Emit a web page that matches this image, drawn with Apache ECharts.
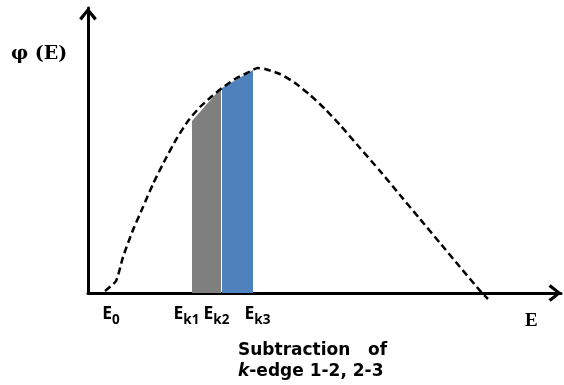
<!DOCTYPE html>
<html>
<head>
<meta charset="utf-8">
<script src="https://cdn.jsdelivr.net/npm/echarts@6/dist/echarts.min.js"></script>
<style>html,body{margin:0;padding:0;background:#fff}#c{width:564px;height:385px}</style>
</head>
<body>
<div id="c"></div>
<script>
// Energy (x) and flux phi(E) (y), arbitrary units
const curveE   = [17, 28, 35, 45, 55, 65, 77, 89, 100, 112, 123, 134, 147, 159, 170, 177, 192, 207, 222, 237, 252, 272, 292, 312, 332, 352, 372, 394, 400];
const curvePhi = [2, 12, 36, 63, 86, 109, 133, 155, 172, 186, 196, 205, 214, 220, 225, 224, 219, 210, 198, 184, 168, 145, 122, 98, 74, 50, 26, 0, -6];
const greyE   = [104, 133];
const greyPhi = [172, 205];
const blueE   = [134, 165];
const bluePhi = [205, 223];
const tickPos    = [23, 98.5, 128.5, 169.5];
const tickMain   = ['E', 'E', 'E', 'E'];
const tickSub    = ['0', 'k1', 'k2', 'k3'];
const xMax = 473, yMax = 285;

const pair = (xs, ys) => xs.map((x, i) => [x, ys[i]]);
const chevron = 'path://M9,0 L18,11 L15.4,13.2 L9,4.8 L2.6,13.2 L0,11 Z';

const axisLineStyle = { lineStyle: { color: '#000', width: 3 }, symbol: ['none', chevron], symbolSize: [18, 13], symbolOffset: [0, -6] };
const sans = 'Open Sans';
const capSans = 'DejaVu Sans';

const chart = echarts.init(document.getElementById('c'));
chart.setOption({
  animation: false,
  grid: { left: 88, top: 8, width: 473, height: 285 },
  xAxis: {
    type: 'value', min: 0, max: xMax,
    splitLine: { show: false },
    axisTick: { show: false },
    axisLine: axisLineStyle,
    axisLabel: {
      customValues: tickPos,
      margin: 12,
      formatter: v => { const i = tickPos.indexOf(v); return i < 0 ? '' : '{m|' + tickMain[i] + '}{s|' + tickSub[i] + '}'; },
      rich: {
        m: { fontFamily: sans, fontWeight: 'bold', fontSize: 17.5, color: '#000', verticalAlign: 'bottom' },
        s: { fontFamily: sans, fontWeight: 'bold', fontSize: 13.5, color: '#000', verticalAlign: 'bottom', padding: [0, 0, -4, 0] }
      }
    }
  },
  yAxis: {
    type: 'value', min: 0, max: yMax,
    splitLine: { show: false },
    axisTick: { show: false },
    axisLabel: { show: false },
    axisLine: axisLineStyle
  },
  title: {
    text: 'Subtraction   of\n{i|k}-edge 1-2, 2-3',
    left: 233, top: 335,
    textStyle: {
      fontFamily: capSans, fontWeight: 'bold', fontSize: 17, color: '#000', lineHeight: 21,
      rich: { i: { fontFamily: capSans, fontWeight: 'bold', fontStyle: 'italic', fontSize: 17, color: '#000', lineHeight: 21 } }
    }
  },
  graphic: [
    { type: 'text', left: 11, top: 45, style: { text: 'φ (E)', font: 'bold 19px "DejaVu Serif"', fill: '#000' } },
    { type: 'text', left: 525, top: 312, style: { text: 'E', font: 'bold 19px "Liberation Serif"', fill: '#000' } }
  ],
  series: [
    {
      type: 'line', data: pair(greyE, greyPhi), symbol: 'none', clip: false,
      lineStyle: { width: 0 }, areaStyle: { color: '#7f7f7f', opacity: 1 }, z: 1
    },
    {
      type: 'line', data: pair(blueE, bluePhi), symbol: 'none', clip: false,
      lineStyle: { width: 0 }, areaStyle: { color: '#4f81bd', opacity: 1 }, z: 1
    },
    {
      type: 'line', data: pair(curveE, curvePhi), symbol: 'none', clip: false, smooth: 0.2,
      lineStyle: { color: '#000', width: 2.5, type: [7, 4] }, z: 3
    }
  ]
});
</script>
</body>
</html>
